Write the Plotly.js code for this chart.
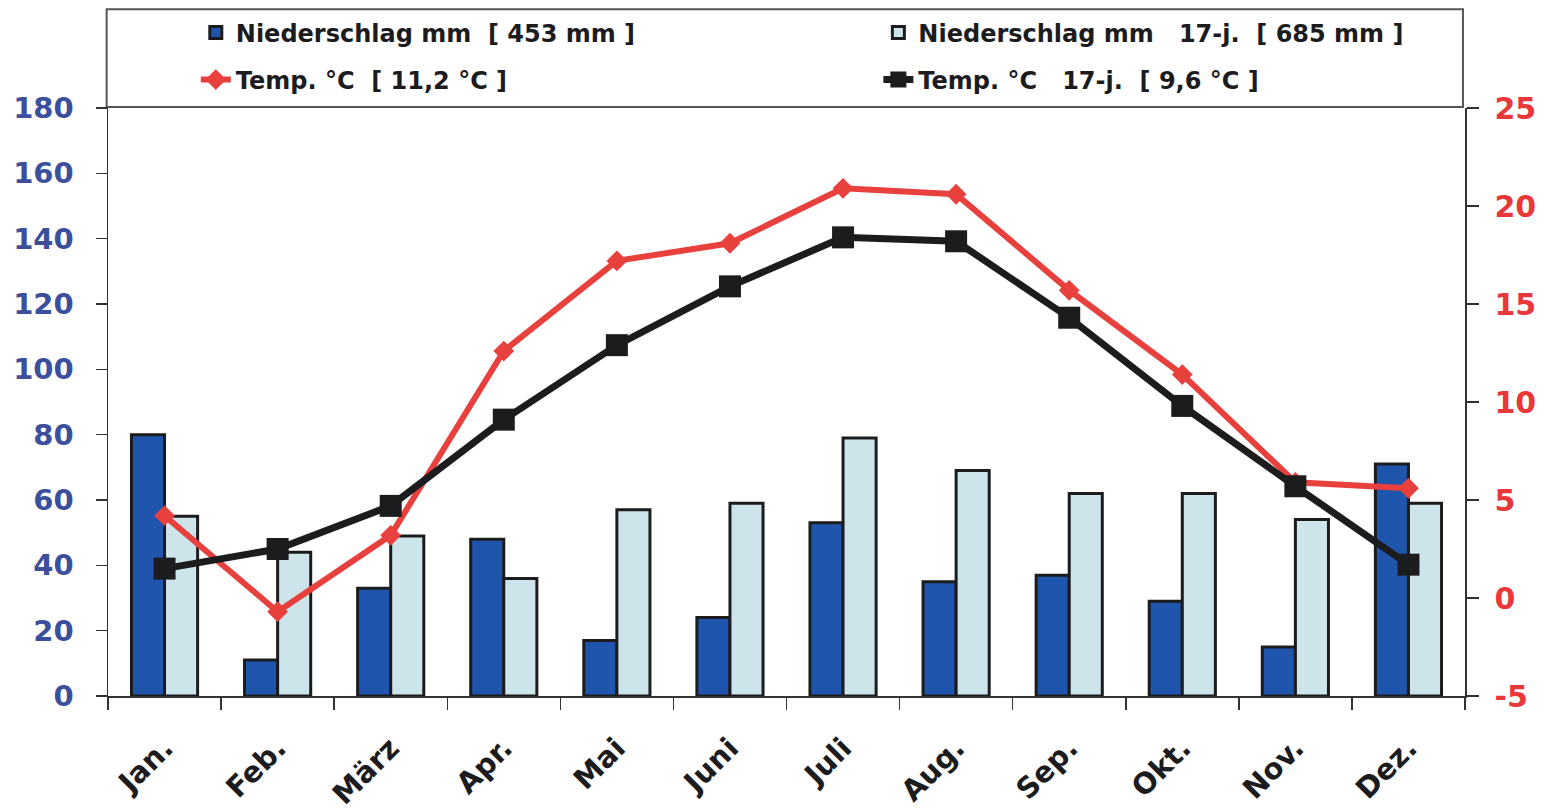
<!DOCTYPE html>
<html>
<head>
<meta charset="utf-8">
<script src="https://cdn.plot.ly/plotly-3.0.1.min.js"></script>
<style>html,body{margin:0;padding:0;background:#fff}#chart{width:1556px;height:812px}</style>
</head>
<body>
<div id="chart"></div>
<script>
// ---- data ----
const months = ["Jan.", "Feb.", "März", "Apr.", "Mai", "Juni", "Juli", "Aug.", "Sep.", "Okt.", "Nov.", "Dez."];
const niederschlag = [80, 11, 33, 48, 17, 24, 53, 35, 37, 29, 15, 71];
const niederschlag17 = [55, 44, 49, 36, 57, 59, 79, 69, 62, 62, 54, 59];
const temp = [4.2, -0.7, 3.2, 12.6, 17.2, 18.1, 20.9, 20.6, 15.7, 11.4, 5.9, 5.6];
const temp17 = [1.5, 2.5, 4.7, 9.1, 12.9, 15.9, 18.4, 18.2, 14.3, 9.8, 5.7, 1.7];
const seriesNames = [
  "Niederschlag mm\u00a0\u00a0[ 453 mm ]",
  "Niederschlag mm\u00a0\u00a0\u00a017-j.\u00a0\u00a0[ 685 mm ]",
  "Temp. °C\u00a0\u00a0[ 11,2 °C ]",
  "Temp. °C\u00a0\u00a0\u00a017-j.\u00a0\u00a0[ 9,6 °C ]"
];
const leftTicks = [0, 20, 40, 60, 80, 100, 120, 140, 160, 180];
const rightTicks = [-5, 0, 5, 10, 15, 20, 25];
const rightTickText = ["-5", "0", "5", "10", "15", "20", "25"];

const ink = "#1c1c1e";
const traces = [
  {type: "bar", x: months, y: niederschlag, name: seriesNames[0], xaxis: "x", yaxis: "y",
   marker: {color: "#1f55ad", line: {color: ink, width: 3}}, legend: "legend"},
  {type: "bar", x: months, y: niederschlag17, name: seriesNames[1], xaxis: "x", yaxis: "y",
   marker: {color: "#cde5ea", line: {color: ink, width: 3}}, legend: "legend2"},
  {type: "scatter", mode: "lines+markers", x: months, y: temp, name: seriesNames[2], xaxis: "x", yaxis: "y2",
   line: {color: "#e8403d", width: 6}, marker: {symbol: "diamond", size: 16, color: "#e8403d"}, legend: "legend3", cliponaxis: false},
  {type: "scatter", mode: "lines+markers", x: months, y: temp17, name: seriesNames[3], xaxis: "x", yaxis: "y2",
   line: {color: ink, width: 7}, marker: {symbol: "square", size: 22, color: ink}, legend: "legend4", cliponaxis: false}
];

const tickFontL = {family: "DejaVu Sans", size: 29, color: "#3b4f9d", weight: "bold"};
const tickFontR = {family: "DejaVu Sans", size: 30, color: "#e8383a", weight: "bold"};
const legFont = {family: "DejaVu Sans", size: 24, color: ink, weight: "bold"};
const boundaryVals = months.map((m, i) => i - 0.5).concat([months.length - 0.5]);

function leg(x, y) {
  return {orientation: "h", x: x, xanchor: "left", y: y, yanchor: "middle",
          font: legFont, bgcolor: "rgba(0,0,0,0)", borderwidth: 0};
}

const layout = {
  width: 1556, height: 812,
  margin: {l: 108, r: 91, t: 107, b: 116},
  paper_bgcolor: "#ffffff", plot_bgcolor: "#ffffff",
  showlegend: true,
  barmode: "group", bargap: 0.415, bargroupgap: 0,
  xaxis: {type: "category", range: [-0.5, months.length - 0.5], tickson: "boundaries", ticks: "outside", ticklen: 12, tickwidth: 1.5, tickcolor: "#333",
          showline: true, linecolor: "#333", linewidth: 1.5, tickangle: -45, showgrid: false, zeroline: false,
          tickfont: {family: "DejaVu Sans", size: 29, color: ink, weight: "bold"}, ticklabelstandoff: 22},
  xaxis2: {overlaying: "x", anchor: "y", range: [-0.5, months.length - 0.5], tickmode: "array", tickvals: boundaryVals,
           ticks: "inside", ticklen: 11, tickwidth: 1.5, tickcolor: "#333", showticklabels: false,
           showline: false, showgrid: false, zeroline: false},
  yaxis: {range: [0, 180], tickmode: "array", tickvals: leftTicks, ticks: "outside", ticklen: 11, tickwidth: 1.5, tickcolor: "#333",
          showline: true, linecolor: "#333", linewidth: 1.5, showgrid: false, zeroline: false,
          tickfont: tickFontL, ticklabelstandoff: 16},
  yaxis2: {overlaying: "y", side: "right", range: [-5, 25], tickmode: "array", tickvals: rightTicks, ticktext: rightTickText, ticks: "outside", ticklen: 12,
           tickwidth: 1.5, tickcolor: "#333", showline: true, linecolor: "#333", linewidth: 1.5, showgrid: false, zeroline: false,
           tickfont: tickFontR, ticklabelstandoff: 10},
  yaxis3: {overlaying: "y", anchor: "x", range: [0, 180], tickmode: "array", tickvals: leftTicks, ticks: "inside", ticklen: 12,
           tickwidth: 1.5, tickcolor: "#333", showticklabels: false, showline: false, showgrid: false, zeroline: false},
  yaxis4: {overlaying: "y", side: "right", anchor: "x", range: [-5, 25], tickmode: "array", tickvals: rightTicks, ticks: "inside", ticklen: 6,
           tickwidth: 1.5, tickcolor: "#333", showticklabels: false, showline: false, showgrid: false, zeroline: false},
  legend: leg(0.0647, 1.1256),
  legend2: leg(0.5677, 1.1256),
  legend3: leg(0.0647, 1.0458),
  legend4: leg(0.5677, 1.0458),
  shapes: [
    {type: "rect", xref: "paper", yref: "paper", x0: -0.001, x1: 0.9985, y0: 1.0017, y1: 1.168,
     line: {color: "#555", width: 2}, fillcolor: "rgba(0,0,0,0)", layer: "below"}
  ]
};

Plotly.newPlot("chart", traces, layout, {displayModeBar: false, staticPlot: true});
</script>
</body>
</html>
